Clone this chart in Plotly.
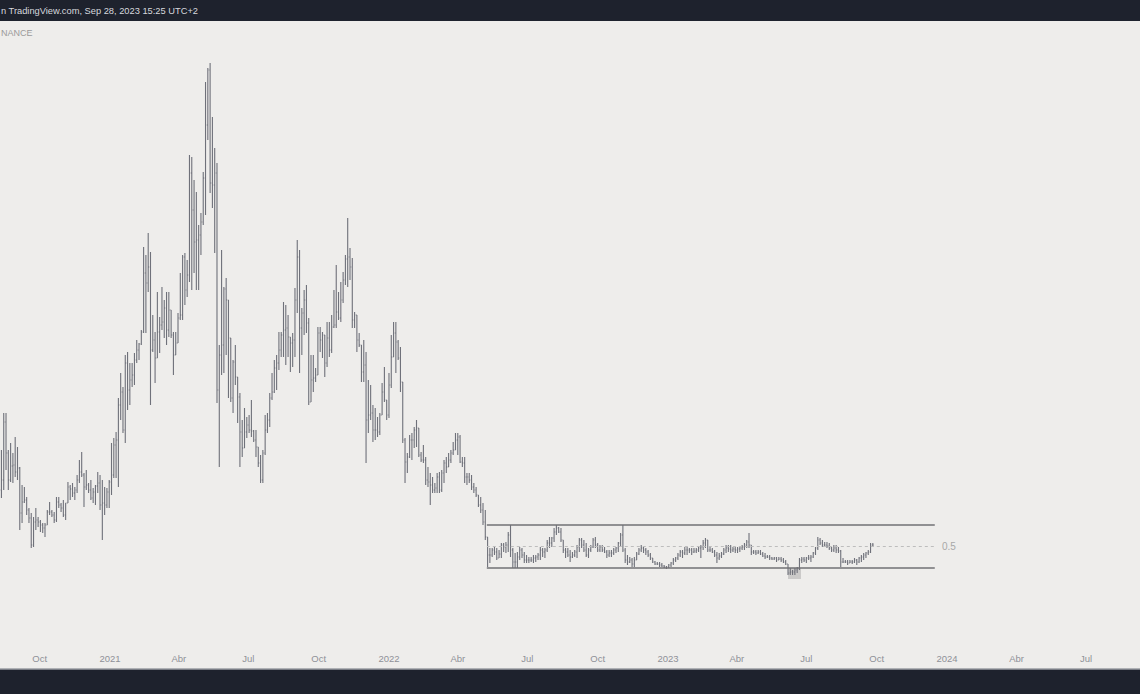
import pandas as pd
import plotly.graph_objects as go

# ---------------- data (3-day bars, arbitrary price units) ----------------
first_open = 150
highs = [
    190,227,227,190,197,187,203,193,173,155,
    153,143,132,127,123,132,123,120,117,117,
    130,138,130,128,143,143,137,140,137,158,
    155,157,153,165,180,188,167,170,157,160,
    152,155,168,165,160,153,152,160,197,202,
    208,242,267,253,285,288,277,277,287,300,
    297,310,393,385,407,388,325,308,348,323,
    353,340,348,348,330,308,308,327,367,385,
    387,380,485,483,460,448,415,427,468,558,
    572,577,523,492,477,295,390,353,362,340,
    302,280,295,263,247,220,232,223,225,240,
    210,210,193,185,190,225,227,247,267,280,
    285,308,308,338,335,325,303,307,352,400,
    390,332,350,355,322,285,285,272,313,313,
    308,305,318,318,325,350,375,348,358,368,
    385,422,392,382,328,325,307,295,300,288,
    260,255,235,232,223,227,257,273,240,267,
    305,318,318,300,293,258,202,187,205,207,
    213,220,212,188,195,183,173,167,163,157,
    167,168,170,180,183,187,190,198,207,207,
    205,183,183,167,167,165,157,153,145,143,
    137,130,103,92,92,93,92,90,97,97,
    98,108,115,92,87,88,93,92,88,85,
    83,83,85,85,87,93,92,92,100,103,
    103,112,115,113,112,100,92,92,90,88,
    90,95,102,102,100,97,92,95,102,103,
    97,95,95,93,90,90,90,92,93,98,
    107,115,92,85,83,82,83,88,92,95,
    93,92,90,87,82,79,78,78,77,75,
    74,76,78,82,83,87,90,90,93,93,
    92,92,92,92,93,95,100,102,100,93,
    92,90,88,87,88,92,95,95,95,93,
    93,93,93,95,97,100,107,95,90,90,
    90,90,88,87,85,85,83,83,83,83,
    83,82,80,76,72,70,72,73,82,83,
    83,83,85,85,88,93,103,102,100,98,
    98,97,93,95,95,93,90,82,80,80,
    80,80,82,81,83,85,87,88,90,97,
    97,
]
lows = [
    142,150,170,150,158,157,163,160,110,117,
    137,125,117,92,93,110,113,108,107,103,
    115,125,123,117,118,132,128,123,120,137,
    140,143,140,147,157,163,133,150,147,140,
    137,135,147,130,100,125,132,132,145,162,
    162,153,220,207,197,230,235,253,255,277,
    280,295,307,307,348,235,288,257,282,287,
    310,302,295,303,302,265,285,297,320,320,
    335,343,358,350,367,350,350,385,415,425,
    500,447,432,387,237,173,265,267,285,242,
    238,227,255,217,173,183,192,202,207,203,
    198,183,173,157,157,185,207,213,240,247,
    250,270,283,283,275,283,268,273,283,327,
    267,285,305,307,235,238,248,258,265,288,
    282,263,273,283,287,312,312,320,318,337,
    355,353,360,312,312,288,293,258,258,177,
    207,220,198,200,203,205,225,238,220,222,
    252,283,267,280,248,197,157,167,182,180,
    192,193,183,178,177,155,153,135,147,147,
    147,147,148,157,167,173,177,185,190,185,
    177,173,157,155,157,150,147,143,133,127,
    115,100,73,77,83,85,80,82,82,88,
    87,88,83,72,72,72,80,82,77,77,
    77,78,77,78,80,80,83,82,88,92,
    93,98,105,107,98,87,82,83,78,82,
    83,82,88,92,88,83,82,88,92,92,
    88,88,88,87,82,83,83,85,87,88,
    93,88,77,75,77,73,73,80,85,88,
    87,85,83,80,77,75,75,73,73,72,
    71,72,73,75,78,80,83,82,85,85,
    87,85,87,87,88,82,90,92,88,88,
    87,83,77,80,82,85,87,88,87,88,
    87,87,88,90,90,92,92,85,86,85,
    86,85,83,81,82,80,80,80,78,80,
    78,77,75,65,65,65,65,67,70,77,
    78,77,80,78,82,85,90,95,93,93,
    92,90,88,88,87,87,73,77,77,75,
    77,76,77,75,77,78,80,82,85,87,
    93,
]
closes = [
    160,218,187,160,174,175,168,172,127,138,
    140,130,122,95,118,120,118,115,112,115,
    128,128,125,120,138,135,132,125,137,153,
    151,147,150,160,168,165,153,155,150,142,
    148,154,157,135,137,135,148,158,165,195,
    200,235,248,210,277,250,260,265,280,290,
    296,308,367,357,373,290,300,282,308,315,
    318,332,310,330,305,285,297,322,325,383,
    350,365,467,430,398,400,405,418,462,515,
    570,457,455,467,250,285,295,351,340,302,
    242,278,263,243,208,192,208,215,210,209,
    200,193,177,160,187,210,220,242,248,272,
    277,290,305,310,312,303,297,300,340,383,
    312,327,340,317,238,260,262,265,307,300,
    305,277,302,290,313,315,328,322,340,360,
    381,383,373,320,325,300,295,268,275,220,
    225,227,210,210,208,225,248,240,225,255,
    283,307,298,282,258,200,178,183,200,200,
    210,212,185,180,180,160,158,155,150,152,
    163,150,167,177,173,180,187,190,200,203,
    178,177,163,163,160,153,150,145,135,130,
    118,103,85,85,90,88,82,86,95,93,
    95,105,90,78,78,83,90,85,80,80,
    80,80,82,83,85,90,88,90,97,97,
    102,108,112,108,100,90,88,85,83,85,
    88,93,100,95,90,85,90,93,100,95,
    90,93,90,88,85,87,87,90,92,97,
    105,90,80,78,80,76,80,86,90,92,
    90,88,85,82,78,76,76,75,74,73,
    73,75,77,80,82,85,88,87,90,90,
    90,88,89,90,92,93,97,100,90,90,
    88,85,82,84,86,90,92,91,90,91,
    90,91,92,93,95,98,95,88,88,87,
    88,86,84,83,83,82,81,82,80,81,
    80,78,76,67,68,68,70,72,80,81,
    80,82,82,83,87,92,100,97,95,95,
    94,92,90,92,90,89,78,78,78,77,
    78,78,80,78,82,83,85,87,88,95,
    95,
]
assert len(highs) == len(lows) == len(closes), (len(highs), len(lows), len(closes))

bar_start = "2020-08-12"
bar_step = "3D"

# channel drawing (range box) and highlight
channel_start, channel_end = "2022-05-09", "2023-12-16"
channel_top, channel_bottom, channel_mid = 115, 72, 93.5
channel_mid_label = "0.5"
highlight_start, highlight_end = "2023-06-07", "2023-06-24"
highlight_top, highlight_bottom = 72, 61

tick_dates = ["2020-10-01", "2021-01-01", "2021-04-01", "2021-07-01", "2021-10-01",
              "2022-01-01", "2022-04-01", "2022-07-01", "2022-10-01", "2023-01-01",
              "2023-04-01", "2023-07-01", "2023-10-01", "2024-01-01", "2024-04-01",
              "2024-07-01"]
tick_labels = ["Oct", "2021", "Abr", "Jul", "Oct", "2022", "Abr", "Jul", "Oct", "2023",
               "Abr", "Jul", "Oct", "2024", "Abr", "Jul"]

header_text = "n TradingView.com, Sep 28, 2023 15:25 UTC+2"
watermark_text = "NANCE"

# ---------------- figure ----------------
dates = pd.date_range(bar_start, periods=len(closes), freq=bar_step)
opens = [first_open] + closes[:-1]

BAR = "#6f717a"
fig = go.Figure(go.Ohlc(
    x=dates, open=opens, high=highs, low=lows, close=closes,
    increasing=dict(line=dict(color=BAR, width=1.1)),
    decreasing=dict(line=dict(color=BAR, width=1.1)),
    tickwidth=0.35, hoverinfo="skip",
))

shapes = [
    dict(type="rect", xref="x", yref="y", x0=highlight_start, x1=highlight_end,
         y0=highlight_bottom, y1=highlight_top, fillcolor="rgba(160,160,160,0.45)",
         line=dict(width=0), layer="below"),
    dict(type="line", xref="x", yref="y", x0=channel_start, x1=channel_end,
         y0=channel_top, y1=channel_top, line=dict(color="#707075", width=1.6)),
    dict(type="line", xref="x", yref="y", x0=channel_start, x1=channel_end,
         y0=channel_bottom, y1=channel_bottom, line=dict(color="#707075", width=1.6)),
    dict(type="line", xref="x", yref="y", x0=channel_start, x1=channel_end,
         y0=channel_mid, y1=channel_mid, line=dict(color="#bdbdbd", width=1, dash="dot")),
    dict(type="line", xref="paper", yref="paper", x0=0, x1=1, y0=0, y1=0,
         line=dict(color="#9a9ca3", width=1.5)),
]

annotations = [
    dict(text=header_text, xref="paper", yref="paper", x=0, y=1, xanchor="left",
         yanchor="bottom", yshift=3, xshift=-1, showarrow=False,
         font=dict(family="Liberation Sans", size=9.3, color="#d6d8de")),
    dict(text=watermark_text, xref="paper", yref="paper", x=0, y=1, xanchor="left",
         yanchor="top", yshift=-5, xshift=-1, showarrow=False,
         font=dict(family="Liberation Sans", size=9, color="#9a9a9a")),
    dict(text=channel_mid_label, xref="x", yref="y", x=channel_end, y=channel_mid,
         xanchor="left", yanchor="middle", xshift=5, showarrow=False,
         font=dict(family="Liberation Sans", size=10, color="#a8a8a8")),
]

fig.update_layout(
    width=1140, height=694,
    margin=dict(l=0, r=0, t=21, b=25),
    paper_bgcolor="#1e222d", plot_bgcolor="#eeedeb",
    showlegend=False,
    shapes=shapes, annotations=annotations,
    xaxis=dict(
        range=["2020-08-10 03:00", "2024-09-09 12:00"],
        rangeslider=dict(visible=False),
        showgrid=False, zeroline=False, showline=False,
        tickmode="array", tickvals=tick_dates, ticktext=tick_labels,
        ticklabelposition="inside", ticks="inside", ticklen=4,
        tickcolor="rgba(0,0,0,0)",
        tickfont=dict(family="Liberation Sans", size=9.5, color="#8f9198"),
    ),
    yaxis=dict(range=[-29, 619], visible=False, showgrid=False, zeroline=False),
)

fig.write_html(
    "out.html",
    config={"displayModeBar": False, "staticPlot": True},
    post_script="document.body.style.margin='0';document.body.style.overflow='hidden';",
)
